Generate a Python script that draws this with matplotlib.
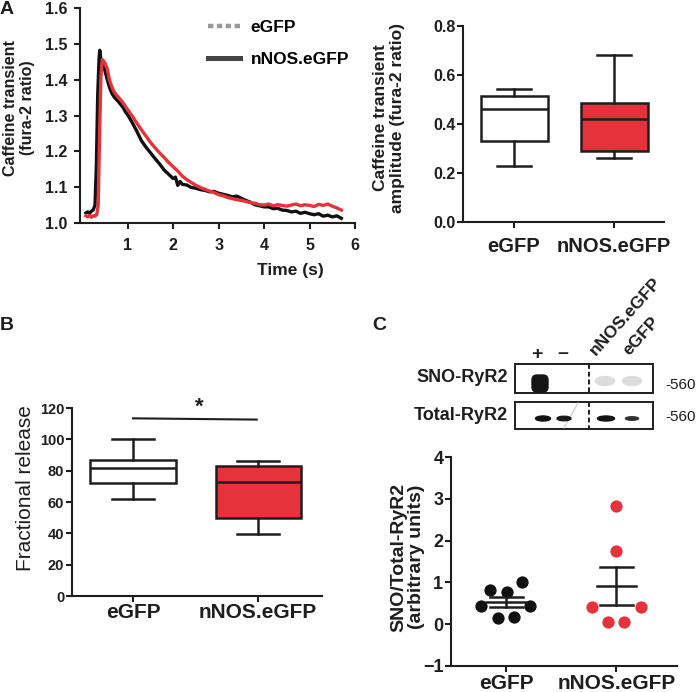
import numpy as np
import matplotlib
matplotlib.use("Agg")
import matplotlib.pyplot as plt
from matplotlib.lines import Line2D
from matplotlib.patches import Rectangle, Ellipse, FancyBboxPatch
from matplotlib.ticker import FormatStrFormatter

plt.rcParams["font.family"] = ["Liberation Sans", "DejaVu Sans"]
plt.rcParams["font.weight"] = "bold"

# A) caffeine transient traces (time in s, fura-2 ratio)
t_ctrl = [0.08, 0.12, 0.16, 0.2, 0.24, 0.28, 0.31, 0.34, 0.37, 0.385, 0.41, 0.45,
          0.5, 0.55, 0.6, 0.65, 0.7, 0.75, 0.8, 0.85, 0.9, 0.95, 1.0, 1.1, 1.2,
          1.3, 1.4, 1.5, 1.6, 1.7, 1.8, 1.9, 2.0, 2.05, 2.1, 2.15, 2.2, 2.3, 2.4,
          2.5, 2.6, 2.7, 2.8, 2.9, 3.0, 3.1, 3.2, 3.3, 3.4, 3.5, 3.6, 3.7, 3.8,
          3.9, 4.0, 4.1, 4.2, 4.3, 4.4, 4.5, 4.6, 4.7, 4.8, 4.9, 5.0, 5.1, 5.2,
          5.3, 5.4, 5.5, 5.6, 5.7]
r_ctrl = [1.028, 1.031, 1.027, 1.033, 1.036, 1.05, 1.16, 1.36, 1.46, 1.482, 1.455, 1.44,
          1.425, 1.40, 1.378, 1.362, 1.352, 1.345, 1.338, 1.33, 1.322, 1.31, 1.302, 1.28, 1.256,
          1.23, 1.212, 1.196, 1.18, 1.165, 1.148, 1.136, 1.124, 1.128, 1.105, 1.116, 1.108, 1.106, 1.099,
          1.097, 1.093, 1.091, 1.087, 1.088, 1.083, 1.08, 1.077, 1.073, 1.075, 1.069, 1.063, 1.058, 1.051,
          1.048, 1.045, 1.045, 1.04, 1.041, 1.036, 1.035, 1.031, 1.033, 1.027, 1.03, 1.026, 1.023, 1.026,
          1.019, 1.022, 1.017, 1.02, 1.013]

t_nnos = [0.08, 0.12, 0.16, 0.2, 0.24, 0.28, 0.32, 0.35, 0.38, 0.41, 0.44, 0.47,
          0.5, 0.55, 0.6, 0.65, 0.7, 0.75, 0.8, 0.85, 0.9, 0.95, 1.0, 1.1, 1.2,
          1.3, 1.4, 1.5, 1.6, 1.7, 1.8, 1.9, 2.0, 2.1, 2.2, 2.3, 2.4, 2.5, 2.6,
          2.7, 2.8, 2.9, 3.0, 3.1, 3.2, 3.3, 3.4, 3.5, 3.6, 3.7, 3.8, 3.9, 4.0,
          4.1, 4.2, 4.3, 4.4, 4.5, 4.6, 4.7, 4.8, 4.9, 5.0, 5.1, 5.2, 5.3, 5.4,
          5.5, 5.6, 5.7]
r_nnos = [1.02, 1.017, 1.021, 1.016, 1.02, 1.019, 1.024, 1.05, 1.24, 1.41, 1.456, 1.452,
          1.446, 1.43, 1.398, 1.38, 1.366, 1.358, 1.35, 1.343, 1.335, 1.325, 1.316, 1.298, 1.279,
          1.26, 1.243, 1.225, 1.21, 1.196, 1.183, 1.169, 1.157, 1.145, 1.131, 1.121, 1.113, 1.105, 1.099,
          1.094, 1.089, 1.085, 1.079, 1.076, 1.071, 1.068, 1.065, 1.063, 1.06, 1.057, 1.055, 1.051, 1.05,
          1.053, 1.048, 1.051, 1.049, 1.047, 1.05, 1.053, 1.048, 1.051, 1.049, 1.046, 1.052, 1.049, 1.053,
          1.047, 1.042, 1.036]

groups = ["eGFP", "nNOS.eGFP"]

# A) amplitude box plots: whisker low, q1, median, q3, whisker high
amp_egfp = [0.23, 0.33, 0.46, 0.515, 0.54]
amp_nnos = [0.26, 0.29, 0.42, 0.485, 0.68]

# B) fractional release box plots
frac_egfp = [62, 72, 81.5, 86.7, 100]
frac_nnos = [39.5, 50, 72.5, 83, 86.3]
sig_level = 113

# C) SNO / total RyR2 ratio, individual cells
sno_egfp = [0.81, 0.77, 1.0, 0.43, 0.43, 0.15, 0.17]
sno_egfp_dx = [-0.145, 0.01, 0.145, -0.227, 0.218, -0.073, 0.073]
sno_nnos = [2.82, 1.75, 0.40, 0.40, 0.06, 0.06]
sno_nnos_dx = [0.0, 0.0, -0.218, 0.227, -0.073, 0.073]

RED = "#e6333b"
EDGE = "#1e1e1e"
W, H = 698, 692


def rect(l, t, r, b):
    return [l / W, 1 - b / H, (r - l) / W, (b - t) / H]


def style(ax, fs, ypad, xpad):
    for s in ["top", "right"]:
        ax.spines[s].set_visible(False)
    for s in ["left", "bottom"]:
        ax.spines[s].set_linewidth(1.5)
        ax.spines[s].set_color(EDGE)
    ax.tick_params(axis="both", direction="out", length=4, width=1.5, color=EDGE,
                   labelsize=fs, labelcolor=EDGE)
    ax.tick_params(axis="y", pad=ypad)
    ax.tick_params(axis="x", pad=xpad)


def stats(v, pos):
    return dict(whislo=v[0], q1=v[1], med=v[2], q3=v[3], whishi=v[4], fliers=[])


fig = plt.figure(figsize=(W / 100, H / 100), dpi=100)

# overlay for letters and blot
ov = fig.add_axes([0, 0, 1, 1])
ov.set_xlim(0, W)
ov.set_ylim(H, 0)
ov.axis("off")

# ---- A left: traces
axA = fig.add_axes(rect(80, 8, 355, 223))
axA.plot(t_ctrl, r_ctrl, color="#111111", lw=2.4, solid_joinstyle="round")
axA.plot(t_nnos, r_nnos, color=RED, lw=2.4, solid_joinstyle="round")
axA.set_xlim(-0.05, 6)
axA.set_ylim(1.0, 1.6)
axA.set_xticks([1, 2, 3, 4, 5, 6])
axA.set_yticks(np.arange(1.0, 1.61, 0.1))
axA.yaxis.set_major_formatter(FormatStrFormatter("%.1f"))
style(axA, 11.5, 5, 7)
handles = [Line2D([], [], color="#9a9a9a", lw=3.2, ls=(0, (1.2, 0.8))),
           Line2D([], [], color="#444444", lw=3.6)]
axA.legend(handles, groups, loc="upper left", bbox_to_anchor=(208 / W, 1 - 20 / H),
           bbox_transform=fig.transFigure, frameon=False, fontsize=12.5,
           handlelength=1.85, handletextpad=0.6, labelspacing=0.95, borderpad=0,
           borderaxespad=0)
ov.text(290, 270, "Time (s)", ha="center", va="center", fontsize=12.5, color=EDGE)
ov.text(19, 108, "Caffeine transient\n(fura-2 ratio)", rotation=90, ha="center",
        va="center", fontsize=11.5, color=EDGE, linespacing=1.15)

# ---- A right: amplitude
axA2 = fig.add_axes(rect(463, 25.7, 664, 222))
bA = axA2.bxp([stats(amp_egfp, 1), stats(amp_nnos, 2)], positions=[1, 2], widths=0.67,
              patch_artist=True, showfliers=False,
              boxprops=dict(lw=1.8, edgecolor=EDGE),
              whiskerprops=dict(lw=1.8, color=EDGE), capprops=dict(lw=1.8, color=EDGE),
              medianprops=dict(lw=1.8, color=EDGE))
bA["boxes"][0].set_facecolor("white")
bA["boxes"][1].set_facecolor(RED)
axA2.set_xlim(0.49, 2.5)
axA2.set_ylim(0, 0.8)
axA2.set_yticks(np.arange(0, 0.81, 0.2))
axA2.yaxis.set_major_formatter(FormatStrFormatter("%.1f"))
axA2.set_xticks([1, 2])
axA2.set_xticklabels(groups)
style(axA2, 11.5, 1, 7)
axA2.tick_params(axis="x", labelsize=14.5)
ov.text(389, 118, "Caffeine transient\namplitude (fura-2 ratio)", rotation=90,
        ha="center", va="center", fontsize=12.5, color=EDGE, linespacing=1.1)

# ---- B: fractional release
axB = fig.add_axes(rect(72, 408, 322, 596))
bB = axB.bxp([stats(frac_egfp, 1), stats(frac_nnos, 2)], positions=[1, 2], widths=0.68,
             patch_artist=True, showfliers=False,
             boxprops=dict(lw=1.8, edgecolor=EDGE),
             whiskerprops=dict(lw=1.8, color=EDGE), capprops=dict(lw=1.8, color=EDGE),
             medianprops=dict(lw=1.8, color=EDGE))
bB["boxes"][0].set_facecolor("white")
bB["boxes"][1].set_facecolor(RED)
axB.set_xlim(0.512, 2.512)
axB.set_ylim(0, 120)
axB.set_yticks(np.arange(0, 121, 20))
axB.set_xticks([1, 2])
axB.set_xticklabels(groups)
style(axB, 10.5, 1.5, 1)
axB.tick_params(axis="x", labelsize=15)
axB.plot([1, 1.99], [sig_level + 0.4, sig_level - 0.4], color=EDGE, lw=1.5, clip_on=False)
axB.text(1.53, sig_level + 0.5, "*", ha="center", va="bottom", fontsize=16, color=EDGE)
ov.text(26, 488, "Fractional release", rotation=90, ha="center", va="center",
        fontsize=15, fontweight="normal", color=EDGE)

# ---- C: blot (drawn in figure pixels)
for top, bot in [(364, 393), (402, 429)]:
    ov.add_patch(Rectangle((515, top), 138, bot - top, fill=True, fc="white",
                           ec=EDGE, lw=1.4, zorder=3))
    ov.plot([589, 589], [top, bot], color=EDGE, lw=1.4, ls=(0, (2.5, 1.5)), zorder=5)
ov.add_patch(FancyBboxPatch((534, 377), 12, 13, boxstyle="round,pad=2,rounding_size=5",
                            color="#151515", zorder=4))
for x in [605, 632]:
    ov.add_patch(Ellipse((x, 381), 19, 9, color="#dcdcdc", zorder=4))
ov.plot([578, 564], [403, 428], color="#cccccc", lw=0.8, zorder=4)
for x, w, h, c in [(543, 15, 5, "#111111"), (564, 14, 4.5, "#1a1a1a"),
                   (606, 17, 5, "#111111"), (632, 13, 3.5, "#333333")]:
    ov.add_patch(Ellipse((x, 418.5), w, h, color=c, zorder=4))
ov.text(508, 378, "SNO-RyR2", ha="right", va="center", fontsize=13, color=EDGE)
ov.text(508, 416, "Total-RyR2", ha="right", va="center", fontsize=13, color=EDGE)
ov.text(665, 385, "-560", ha="left", va="center", fontsize=11, fontweight="normal", color=EDGE)
ov.text(665, 417, "-560", ha="left", va="center", fontsize=11, fontweight="normal", color=EDGE)
ov.text(537, 355, "+", ha="center", va="center", fontsize=14, color=EDGE)
ov.text(563, 353, "\u2013", ha="center", va="center", fontsize=14, color=EDGE)
ov.text(598, 358, "nNOS.eGFP", rotation=48, rotation_mode="anchor", ha="left",
        va="bottom", fontsize=12.5, color=EDGE)
ov.text(632, 358, "eGFP", rotation=48, rotation_mode="anchor", ha="left",
        va="bottom", fontsize=12.5, color=EDGE)

# ---- C: scatter
axC = fig.add_axes(rect(451, 457, 677, 666))
for i, (vals, dx, col) in enumerate([(sno_egfp, sno_egfp_dx, "#111111"),
                                     (sno_nnos, sno_nnos_dx, RED)]):
    pos = i + 1
    axC.scatter(np.array(dx) + pos, vals, s=78, color=col, zorder=3, linewidths=0)
    m = np.mean(vals)
    se = np.std(vals, ddof=1) / np.sqrt(len(vals))
    axC.plot([pos - 0.18, pos + 0.18], [m, m], color=EDGE, lw=1.8, zorder=4)
    axC.plot([pos - 0.15, pos + 0.15], [m - se, m - se], color=EDGE, lw=1.8, zorder=4)
    axC.plot([pos - 0.15, pos + 0.15], [m + se, m + se], color=EDGE, lw=1.8, zorder=4)
    axC.plot([pos, pos], [m - se, m + se], color=EDGE, lw=1.8, zorder=4)
axC.set_xlim(0.5, 2.55)
axC.set_ylim(-1, 4)
axC.set_yticks(range(-1, 5))
axC.set_xticks([1, 2])
axC.set_xticklabels(groups)
style(axC, 13, 1.5, 2)
axC.tick_params(axis="x", labelsize=15)
ov.text(408, 557, "SNO/Total-RyR2\n(arbitrary units)", rotation=90, ha="center",
        va="center", fontsize=14, color=EDGE, linespacing=1.05)

# panel letters
ov.text(0, 10, "A", ha="left", va="center", fontsize=14, color=EDGE)
ov.text(0, 325, "B", ha="left", va="center", fontsize=14, color=EDGE)
ov.text(372, 325, "C", ha="left", va="center", fontsize=14, color=EDGE)

fig.savefig("out.png", dpi=100)
